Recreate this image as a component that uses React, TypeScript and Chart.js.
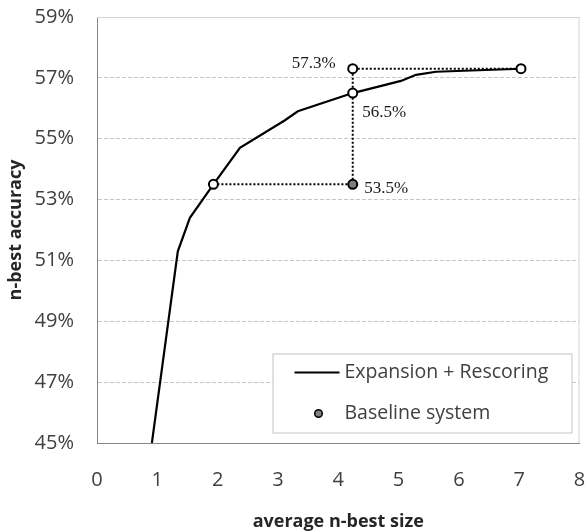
import React, { useEffect, useRef } from "react";
import { Chart, registerables } from "chart.js";

Chart.register(...registerables);

// Expansion + Rescoring curve (x: average n-best size, y: accuracy %)
const curveX = [0.91, 1.34, 1.54, 1.93, 2.37, 3.11, 3.33, 4.24, 5.04, 5.29, 5.62, 7.03];
const curveY = [45.0, 51.3, 52.4, 53.5, 54.7, 55.6, 55.9, 56.5, 56.9, 57.1, 57.2, 57.3];

// open circle markers on / near the curve
const openX = [1.93, 4.24, 4.24, 7.03];
const openY = [53.5, 56.5, 57.3, 57.3];

// baseline system point
const baseX = [4.24];
const baseY = [53.5];

// dotted guide polyline
const guideX = [1.93, 4.24, 4.24, 7.03];
const guideY = [53.5, 53.5, 57.3, 57.3];

// annotated values
const annotX = [4.24, 4.24, 4.24];
const annotY = [57.3, 56.5, 53.5];

const xTicks = [0, 1, 2, 3, 4, 5, 6, 7, 8];
const yTicks = [45, 47, 49, 51, 53, 55, 57, 59];

const SANS = "'Open Sans', 'Noto Sans', sans-serif";
const SERIF = "'Liberation Serif', 'Times New Roman', serif";

const pts = (xs: number[], ys: number[]) => xs.map((x, i) => ({ x, y: ys[i] }));

export default function App() {
  const ref = useRef<HTMLCanvasElement | null>(null);

  useEffect(() => {
    document.body.style.margin = "0";
    const canvas = ref.current;
    if (!canvas) return;

    const framePlugin = {
      id: "frame",
      beforeDatasetsDraw(chart: any) {
        const { ctx, chartArea: a } = chart;
        ctx.save();
        ctx.strokeStyle = "#d4d4d4";
        ctx.lineWidth = 1;
        ctx.setLineDash([]);
        ctx.beginPath();
        ctx.moveTo(a.left, a.top + 0.5);
        ctx.lineTo(a.right - 0.5, a.top + 0.5);
        ctx.lineTo(a.right - 0.5, a.bottom);
        ctx.stroke();
        ctx.restore();
      },
    };

    const annotPlugin = {
      id: "annot",
      afterDatasetsDraw(chart: any) {
        const { ctx, scales } = chart;
        const offsets = [
          { dx: -17, dy: -0.5, align: "right" },
          { dx: 9.5, dy: 24, align: "left" },
          { dx: 11.5, dy: 8.5, align: "left" },
        ];
        ctx.save();
        ctx.font = `17px ${SERIF}`;
        ctx.fillStyle = "#1a1a1a";
        ctx.textBaseline = "alphabetic";
        annotX.forEach((xv, i) => {
          const px = scales.x.getPixelForValue(xv);
          const py = scales.y.getPixelForValue(annotY[i]);
          const o = offsets[i];
          ctx.textAlign = o.align;
          ctx.fillText(`${annotY[i].toFixed(1)}%`, px + o.dx, py + o.dy);
        });
        ctx.restore();
      },
    };

    const legendPlugin = {
      id: "boxLegend",
      afterDraw(chart: any) {
        const { ctx, chartArea: a } = chart;
        const x2 = a.right - 8;
        const y2 = a.bottom - 10.5;
        const w = 299;
        const h = 79;
        const x1 = x2 - w;
        const y1 = y2 - h;
        ctx.save();
        ctx.fillStyle = "#ffffff";
        ctx.fillRect(x1, y1, w, h);
        ctx.strokeStyle = "#c4c4c4";
        ctx.lineWidth = 1;
        ctx.strokeRect(x1 + 0.5, y1 + 0.5, w, h);

        const lineDs = chart.data.datasets[3];
        const baseDs = chart.data.datasets[1];
        // line entry
        ctx.strokeStyle = "#000";
        ctx.lineWidth = 2;
        ctx.beginPath();
        ctx.moveTo(x1 + 22, y1 + 19);
        ctx.lineTo(x1 + 67, y1 + 19);
        ctx.stroke();
        // marker entry
        ctx.beginPath();
        ctx.arc(x1 + 46, y1 + 60, 3.8, 0, Math.PI * 2);
        ctx.fillStyle = "#808080";
        ctx.fill();
        ctx.lineWidth = 1.5;
        ctx.strokeStyle = "#000";
        ctx.stroke();

        ctx.font = `19.5px ${SANS}`;
        ctx.fillStyle = "#404040";
        ctx.textAlign = "left";
        ctx.textBaseline = "middle";
        ctx.fillText(lineDs.label, x1 + 72, y1 + 19);
        ctx.fillText(baseDs.label, x1 + 72, y1 + 60);
        ctx.restore();
      },
    };

    const chart = new Chart(canvas, {
      type: "scatter",
      data: {
        datasets: [
          {
            label: "markers",
            data: pts(openX, openY),
            pointRadius: 4.5,
            pointBackgroundColor: "#ffffff",
            pointBorderColor: "#000000",
            pointBorderWidth: 2,
            showLine: false,
            order: 0,
          },
          {
            label: "Baseline system",
            data: pts(baseX, baseY),
            pointRadius: 4.5,
            pointBackgroundColor: "#7f7f7f",
            pointBorderColor: "#000000",
            pointBorderWidth: 2,
            showLine: false,
            order: 0,
          },
          {
            label: "guides",
            data: pts(guideX, guideY),
            showLine: true,
            borderColor: "#000000",
            borderWidth: 2,
            borderDash: [2, 2],
            pointRadius: 0,
            order: 1,
          },
          {
            label: "Expansion + Rescoring",
            data: pts(curveX, curveY),
            showLine: true,
            borderColor: "#000000",
            borderWidth: 2.2,
            pointRadius: 0,
            tension: 0,
            order: 2,
          },
        ],
      },
      options: {
        animation: false,
        responsive: false,
        maintainAspectRatio: false,
        layout: { padding: { left: 0, right: 6, top: 17, bottom: 0 } },
        plugins: {
          legend: { display: false },
          tooltip: { enabled: false },
        },
        scales: {
          x: {
            type: "linear",
            min: xTicks[0],
            max: xTicks[xTicks.length - 1],
            afterBuildTicks: (s: any) => {
              s.ticks = xTicks.map((v) => ({ value: v }));
            },
            afterFit: (s: any) => {
              s.height = 88;
            },
            ticks: {
              font: { family: SANS, size: 20 },
              color: "#404040",
              padding: 0,
            },
            grid: {
              display: true,
              drawOnChartArea: false,
              drawTicks: true,
              tickLength: 25,
              color: "rgba(0,0,0,0)",
              tickColor: "rgba(0,0,0,0)",
            },
            border: { display: true, color: "#868686", width: 1 },
            title: {
              display: true,
              text: "average n-best size",
              font: { family: SANS, size: 18, weight: "bold", lineHeight: 1 },
              color: "#262626",
              padding: { top: 0, bottom: 0 },
            },
          },
          y: {
            type: "linear",
            min: yTicks[0],
            max: yTicks[yTicks.length - 1],
            afterBuildTicks: (s: any) => {
              s.ticks = yTicks.map((v) => ({ value: v }));
            },
            afterFit: (s: any) => {
              s.width = 97;
            },
            ticks: {
              font: { family: SANS, size: 20 },
              color: "#404040",
              padding: 0,
              callback: (v: any) => `${v}%`,
            },
            grid: {
              color: "#c6c6c6",
              lineWidth: 1,
              drawTicks: true,
              tickLength: 23,
              tickColor: "rgba(0,0,0,0)",
            },
            border: { display: true, color: "#868686", width: 1, dash: [4, 2] },
            title: {
              display: true,
              text: "n-best accuracy",
              font: { family: SANS, size: 18, weight: "bold", lineHeight: 1 },
              color: "#262626",
              padding: { top: 7, bottom: 0 },
            },
          },
        },
      },
      plugins: [framePlugin, annotPlugin, legendPlugin],
    } as any);

    return () => {
      chart.destroy();
    };
  }, []);

  return (
    <div style={{ width: 586, height: 531 }}>
      <canvas ref={ref} width={586} height={531} style={{ display: "block" }} />
    </div>
  );
}
